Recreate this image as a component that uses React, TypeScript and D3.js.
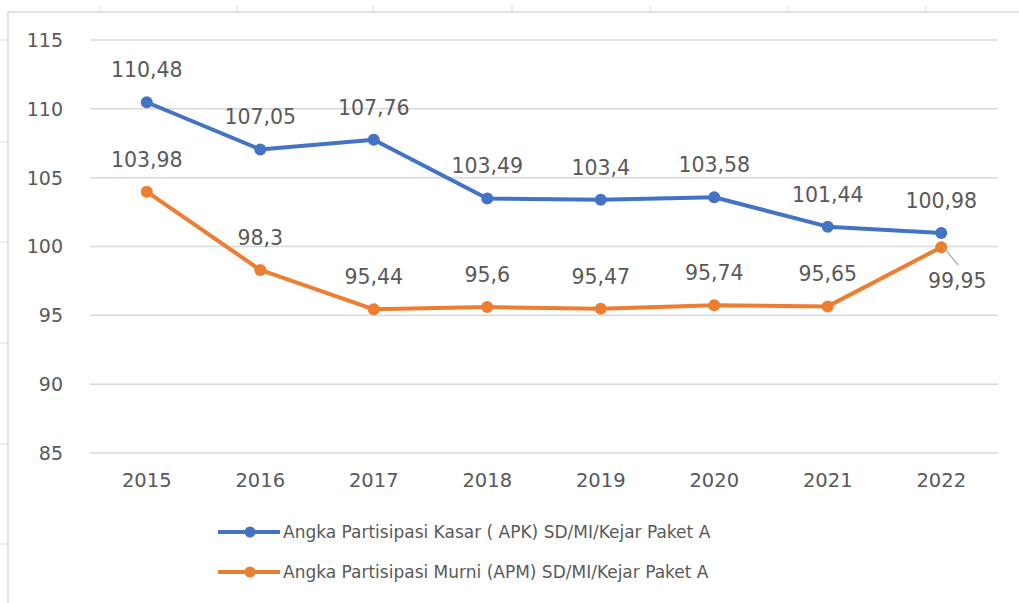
import React from "react";
import * as d3 from "d3";

const years = ["2015", "2016", "2017", "2018", "2019", "2020", "2021", "2022"];
const apk = [110.48, 107.05, 107.76, 103.49, 103.4, 103.58, 101.44, 100.98];
const apm = [103.98, 98.3, 95.44, 95.6, 95.47, 95.74, 95.65, 99.95];
const apkLabels = ["110,48", "107,05", "107,76", "103,49", "103,4", "103,58", "101,44", "100,98"];
const apmLabels = ["103,98", "98,3", "95,44", "95,6", "95,47", "95,74", "95,65", "99,95"];
const yTicks = [85, 90, 95, 100, 105, 110, 115];
const seriesNames = [
  "Angka Partisipasi Kasar ( APK) SD/MI/Kejar Paket A",
  "Angka Partisipasi Murni (APM) SD/MI/Kejar Paket A",
];

const W = 1019;
const H = 603;
const BLUE = "#4472C4";
const ORANGE = "#ED7D31";
const TEXT = "#595959";
const GRID = "#d9d9d9";
const FONT = "'DejaVu Sans', sans-serif";

export default function App() {
  const x = d3.scaleBand<string>().domain(years).range([90, 998]);
  const y = d3.scaleLinear().domain([85, 115]).range([453, 40]);
  const cx = (yr: string) => (x(yr) as number) + x.bandwidth() / 2;
  const line = d3
    .line<number>()
    .x((_, i) => cx(years[i]))
    .y((v) => y(v));

  const topTicks = [100, 237, 373, 512, 650, 788, 926];
  const leftTicks = [40, 142, 242, 343, 444, 544];

  const series = [
    { vals: apk, labels: apkLabels, color: BLUE },
    { vals: apm, labels: apmLabels, color: ORANGE },
  ];

  return (
    <svg
      width={W}
      height={H}
      style={{ position: "absolute", left: 0, top: 0, background: "#fff" }}
      fontFamily={FONT}
    >
      {/* sheet borders */}
      <line x1={8} x2={W} y1={12} y2={12} stroke={GRID} strokeWidth={1.5} />
      <line x1={8} x2={8} y1={12} y2={H} stroke={GRID} strokeWidth={1.5} />
      {topTicks.map((t) => (
        <line key={"tt" + t} x1={t} x2={t} y1={5} y2={12} stroke={GRID} strokeWidth={1} />
      ))}
      {leftTicks.map((t) => (
        <line key={"lt" + t} x1={0} x2={8} y1={t} y2={t} stroke={GRID} strokeWidth={1} />
      ))}

      {/* gridlines */}
      {yTicks.map((t) => (
        <g key={"g" + t}>
          <line x1={90} x2={998} y1={y(t)} y2={y(t)} stroke={GRID} strokeWidth={1.5} />
          <text
            x={63}
            y={y(t)}
            dy="0.36em"
            textAnchor="end"
            fontSize={19}
            fill={TEXT}
          >
            {t}
          </text>
        </g>
      ))}

      {/* x labels */}
      {years.map((yr) => (
        <text key={"x" + yr} x={cx(yr)} y={487} textAnchor="middle" fontSize={19.5} fill={TEXT}>
          {yr}
        </text>
      ))}

      {/* lines */}
      {series.map((s, si) => (
        <g key={"s" + si}>
          <path d={line(s.vals) || ""} fill="none" stroke={s.color} strokeWidth={4} strokeLinejoin="round" />
          {s.vals.map((v, i) => (
            <circle key={i} cx={cx(years[i])} cy={y(v)} r={6} fill={s.color} />
          ))}
        </g>
      ))}

      {/* data labels */}
      {series.map((s, si) =>
        s.vals.map((v, i) => {
          const px = cx(years[i]);
          const py = y(v);
          const special = si === 1 && i === years.length - 1;
          if (special) {
            return (
              <g key={"l" + si + i}>
                <line x1={px + 3} x2={px + 17} y1={py + 1} y2={py + 18} stroke="#a6a6a6" strokeWidth={1.2} />
                <text x={px + 16} y={py + 41} textAnchor="middle" fontSize={20.5} fill={TEXT}>
                  {s.labels[i]}
                </text>
              </g>
            );
          }
          return (
            <text key={"l" + si + i} x={px} y={py - 25} textAnchor="middle" fontSize={20.5} fill={TEXT}>
              {s.labels[i]}
            </text>
          );
        })
      )}

      {/* legend */}
      {series.map((s, si) => {
        const ly = 532 + si * 40;
        return (
          <g key={"lg" + si}>
            <line x1={218} x2={280} y1={ly} y2={ly} stroke={s.color} strokeWidth={4} />
            <circle cx={250} cy={ly} r={5.5} fill={s.color} />
            <text x={283} y={ly} dy="0.36em" fontSize={17} fill={TEXT}>
              {seriesNames[si]}
            </text>
          </g>
        );
      })}
    </svg>
  );
}
